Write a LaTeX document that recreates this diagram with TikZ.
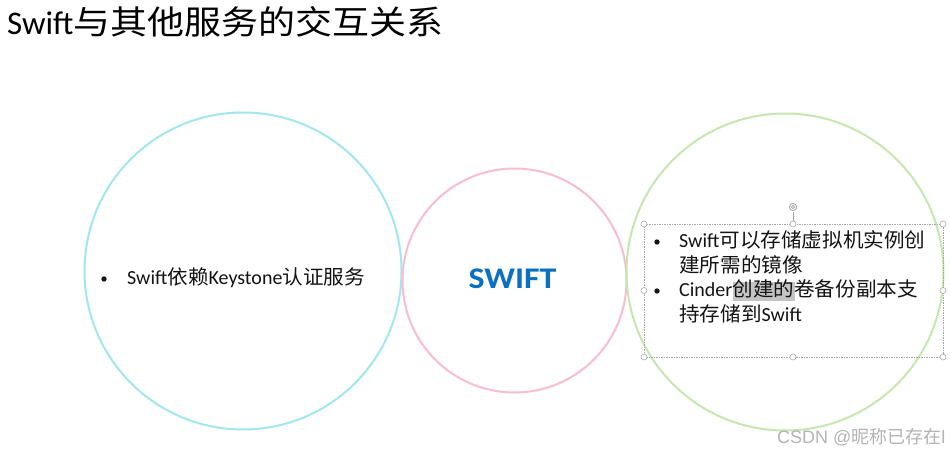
\documentclass[tikz,border=0pt]{standalone}
\usepackage{fontspec}
\setmainfont{Carlito}
\newfontfamily\cjk{Noto Sans CJK SC}
\newfontfamily\wmfont{Liberation Sans}
\newcommand\zh[1]{\scalebox{1.03}[1]{\cjk #1}}
\newcommand\zhw[1]{\scalebox{1.12}[1]{\cjk #1}}
\definecolor{ccyan}{HTML}{A2E7EF}
\definecolor{cpink}{HTML}{F8BDD3}
\definecolor{cgreen}{HTML}{C6E7AF}
\definecolor{sblue}{HTML}{0A70C0}
\definecolor{txtc}{HTML}{141414}
\definecolor{hlgray}{HTML}{C4C4C4}
\definecolor{wmgray}{HTML}{B4B4B4}
\begin{document}
\begin{tikzpicture}[x=1pt,y=-1pt,
  ring/.style={circle, draw, line width=2pt, inner sep=0pt},
  txt/.style={inner sep=0pt, anchor=base west, text=txtc},
  bul/.style={circle, fill=txtc, inner sep=0pt, minimum size=5.4pt},
  handle/.style={circle, draw=gray!75, fill=white, line width=0.5pt, minimum size=6pt, inner sep=0pt},
  selbox/.style={draw=gray!70, line width=0.5pt, dash pattern=on 1.5pt off 1pt}]
\useasboundingbox[fill=white] (0,0) rectangle (950,454);

% circles
\node[ring, draw=ccyan, minimum size=317pt] (cl) at (243,271) {};
\node[ring, draw=cpink, minimum size=224pt] (cm) at (514.5,280.5) {};
\node[ring, draw=cgreen, minimum size=317pt] (cr) at (785,272) {};

% title
\node[txt, text=black, font=\fontsize{33pt}{36pt}\selectfont] (title) at (7,35) {Swift\zhw{与其他服务的交互关系}};

% left text
\node[bul] (bl) at (104,279) {};
\node[txt, font=\fontsize{20pt}{24pt}\selectfont] (lt) at (127,285) {Swift\zh{依赖}Keystone\zh{认证服务}};

% middle
\node[inner sep=0pt, anchor=base, text=sblue, font=\fontsize{30pt}{32pt}\bfseries\selectfont] (sw) at (512.5,289) {\scalebox{1.13}[1]{SWIFT}};

% selection frame
\draw[selbox] (644,224) rectangle (943,357);
\coordinate (rotb) at (793,224);
\node[inner sep=0pt, minimum size=9pt] (rot) at (793,207) {};
\draw[gray!75, line width=0.5pt] (rot.south) -- (rotb);
\draw[gray!75, line width=0.8pt] (793,207) circle[radius=3.6pt];
\draw[gray!75, line width=0.6pt] (793,207) circle[radius=1.6pt];
\foreach \p/\n in {{644,224}/h1,{793,224}/h2,{943,224}/h3,{644,290.5}/h4,{943,290.5}/h5,{644,357}/h6,{793,357}/h7,{943,357}/h8}
  \node[handle] (\n) at (\p) {};

% highlight
\fill[hlgray] (733,282) rectangle (795,301);

% right text
\node[bul] (b1) at (657,242) {};
\node[txt, font=\fontsize{20pt}{24pt}\selectfont] (r1) at (679,248) {Swift\zh{可以存储虚拟机实例创}};
\node[txt, font=\fontsize{20pt}{24pt}\selectfont] (r2) at (679,272.5) {\zh{建所需的镜像}};
\node[bul] (b2) at (657,291) {};
\node[txt, font=\fontsize{20pt}{24pt}\selectfont] (r3) at (679,297) {Cinder\zh{创建的卷备份副本支}};
\node[txt, font=\fontsize{20pt}{24pt}\selectfont] (r4) at (679,321.5) {\zh{持存储到}Swift};

% watermark
\node[inner sep=0pt, anchor=base west, text=wmgray, font=\fontsize{18pt}{20pt}\wmfont] (wm) at (777,443) {CSDN @{\cjk 昵称已存在}l};
\end{tikzpicture}
\end{document}
